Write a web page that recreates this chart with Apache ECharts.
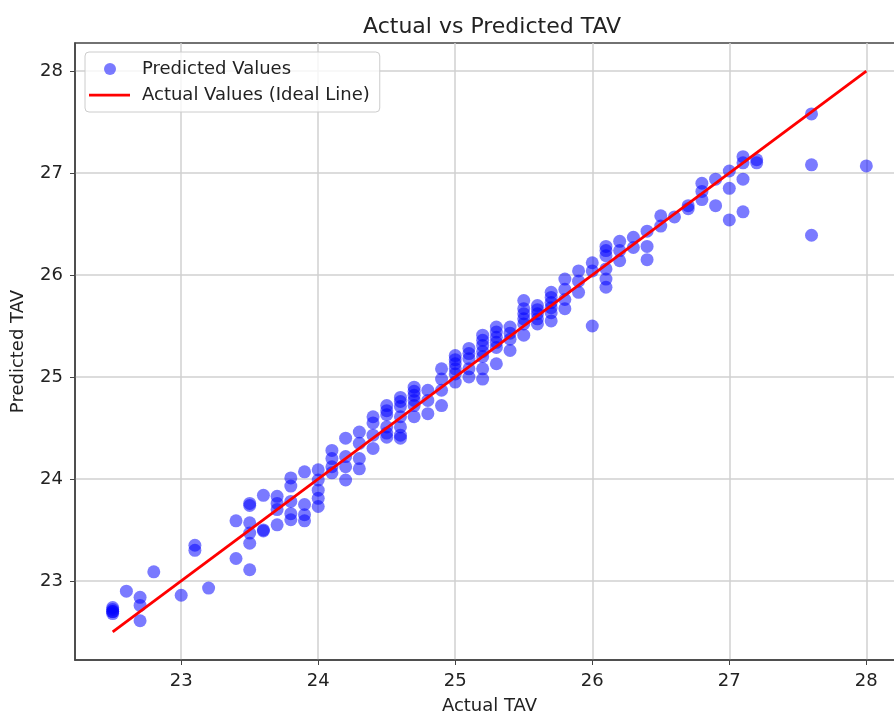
<!DOCTYPE html>
<html>
<head>
<meta charset="utf-8">
<script src="https://cdn.jsdelivr.net/npm/echarts@6/dist/echarts.min.js"></script>
<style>
  html, body { margin: 0; padding: 0; background: #fff; }
  #chart { width: 894px; height: 715px; }
</style>
</head>
<body>
<div id="chart"></div>
<script>
var chart = echarts.init(document.getElementById('chart'));

// actual TAV (x) and predicted TAV (y)
var actualTAV = [
  22.5, 22.5, 22.5, 22.5, 22.5, 22.6, 22.7, 22.7, 22.7, 22.8, 23.0, 23.1, 23.1, 23.2,
  23.4, 23.4, 23.5, 23.5, 23.5, 23.5, 23.5, 23.5, 23.6, 23.6, 23.6,
  23.7, 23.7, 23.7, 23.7, 23.8, 23.8, 23.8, 23.8, 23.8, 23.9, 23.9, 23.9, 23.9,
  24.0, 24.0, 24.0, 24.0, 24.0, 24.1, 24.1, 24.1, 24.1, 24.2, 24.2, 24.2, 24.2,
  24.3, 24.3, 24.3, 24.3, 24.4, 24.4, 24.4, 24.4, 24.5, 24.5, 24.5, 24.5, 24.5, 24.5,
  24.6, 24.6, 24.6, 24.6, 24.6, 24.6, 24.6, 24.7, 24.7, 24.7, 24.7, 24.7, 24.7,
  24.8, 24.8, 24.8, 24.9, 24.9, 24.9, 24.9, 25.0, 25.0, 25.0, 25.0, 25.0, 25.0,
  25.1, 25.1, 25.1, 25.1, 25.1, 25.2, 25.2, 25.2, 25.2, 25.2, 25.2, 25.2,
  25.3, 25.3, 25.3, 25.3, 25.3, 25.3, 25.4, 25.4, 25.4, 25.4,
  25.5, 25.5, 25.5, 25.5, 25.5, 25.5, 25.6, 25.6, 25.6, 25.6, 25.6,
  25.7, 25.7, 25.7, 25.7, 25.7, 25.7,
  25.8, 25.8, 25.8, 25.8, 25.9, 25.9, 25.9, 26.0, 26.0, 26.0,
  26.1, 26.1, 26.1, 26.1, 26.1, 26.1, 26.2, 26.2, 26.2, 26.3, 26.3, 26.4, 26.4, 26.4,
  26.5, 26.5, 26.6, 26.7, 26.7, 26.8, 26.8, 26.8, 26.9, 26.9,
  27.0, 27.0, 27.0, 27.1, 27.1, 27.1, 27.1, 27.2, 27.2,
  27.6, 27.6, 27.6, 28.0
];
var predictedTAV = [
  22.70, 22.72, 22.68, 22.74, 22.70, 22.90, 22.84, 22.76, 22.61, 23.09, 22.86, 23.35, 23.30, 22.93,
  23.22, 23.59, 23.76, 23.74, 23.57, 23.47, 23.37, 23.11, 23.84, 23.50, 23.49,
  23.83, 23.76, 23.70, 23.55, 24.01, 23.93, 23.78, 23.66, 23.60, 24.07, 23.75, 23.65, 23.59,
  24.09, 23.99, 23.89, 23.81, 23.73, 24.28, 24.20, 24.12, 24.06, 24.40, 24.22, 24.12, 23.99,
  24.46, 24.35, 24.20, 24.10, 24.61, 24.55, 24.43, 24.30, 24.72, 24.63, 24.51, 24.41, 24.45, 24.67,
  24.80, 24.71, 24.61, 24.51, 24.43, 24.40, 24.76, 24.90, 24.82, 24.72, 24.61, 24.86, 24.77,
  24.87, 24.77, 24.64, 25.08, 24.98, 24.87, 24.72, 25.21, 25.13, 25.03, 24.95, 25.17, 25.08,
  25.28, 25.18, 25.08, 25.00, 25.23, 25.41, 25.31, 25.20, 25.08, 24.98, 25.36, 25.25,
  25.49, 25.39, 25.29, 25.13, 25.44, 25.34, 25.49, 25.37, 25.26, 25.43,
  25.75, 25.62, 25.52, 25.41, 25.67, 25.57, 25.70, 25.62, 25.52, 25.66, 25.57,
  25.83, 25.73, 25.63, 25.55, 25.78, 25.68,
  25.96, 25.86, 25.76, 25.67, 26.04, 25.94, 25.83, 26.12, 26.04, 25.50,
  26.28, 26.19, 26.06, 25.96, 25.88, 26.24, 26.33, 26.24, 26.14, 26.37, 26.27, 26.43, 26.28, 26.15,
  26.58, 26.48, 26.57, 26.68, 26.65, 26.90, 26.82, 26.74, 26.94, 26.68,
  27.02, 26.85, 26.54, 27.16, 27.10, 26.94, 26.62, 27.13, 27.10,
  27.58, 27.08, 26.39, 27.07
];
var idealLine = [22.5, 28];
var tickValues = [23, 24, 25, 26, 27, 28];

var points = [];
for (var i = 0; i < actualTAV.length; i++) {
  points.push([actualTAV[i], predictedTAV[i]]);
}
var linePts = idealLine.map(function (v) { return [v, v]; });

var font = 'DejaVu Sans';

function makeAxis(name, gap) {
  return {
    type: 'value',
    name: name,
    nameLocation: 'middle',
    nameGap: gap,
    nameTextStyle: { fontFamily: font, fontSize: 18, color: '#222' },
    min: 22.225,
    max: 28.275,
    axisLine: { show: true, onZero: false, lineStyle: { color: '#444', width: 1.5 } },
    axisTick: { show: true, length: 5, customValues: tickValues, lineStyle: { color: '#444', width: 1 } },
    axisLabel: { customValues: tickValues, fontFamily: font, fontSize: 18, color: '#222', margin: 12 },
    splitLine: { show: true, lineStyle: { color: '#d0d0d0', width: 1.5 } }
  };
}

chart.setOption({
  animation: false,
  backgroundColor: '#fff',
  title: {
    text: 'Actual vs Predicted TAV',
    left: 358,
    top: 11,
    textStyle: { fontFamily: font, fontSize: 22, fontWeight: 'normal', color: '#222' }
  },
  // plot area runs past the right edge of the picture
  grid: {
    left: 75, top: 43, width: 829, height: 617,
    outerBoundsMode: 'none',
    containLabel: false,
    show: true, borderColor: '#444', borderWidth: 1.5
  },
  legend: {
    orient: 'vertical',
    left: 85,
    top: 52,
    itemWidth: 48,
    itemHeight: 12,
    itemGap: 8,
    padding: [8, 10, 8, 4],
    borderColor: '#ccc',
    borderWidth: 1,
    borderRadius: 4,
    backgroundColor: 'rgba(255,255,255,0.8)',
    textStyle: { fontFamily: font, fontSize: 18, color: '#222' },
    data: [
      { name: 'Predicted Values', icon: 'path://M0,0 M48,12 M27,6 A6,6 0 1,1 15,6 A6,6 0 1,1 27,6 Z' },
      { name: 'Actual Values (Ideal Line)', icon: 'path://M0,0 M48,12 M0,4.7 L41,4.7 L41,7.4 L0,7.4 Z' }
    ]
  },
  xAxis: makeAxis('Actual TAV', 37),
  yAxis: makeAxis('Predicted TAV', 48),
  series: [
    {
      name: 'Predicted Values',
      type: 'scatter',
      symbolSize: 13,
      itemStyle: { color: 'rgba(0,0,255,0.65)' },
      data: points
    },
    {
      name: 'Actual Values (Ideal Line)',
      type: 'line',
      showSymbol: false,
      symbol: 'none',
      lineStyle: { color: '#ff0000', width: 2.8 },
      itemStyle: { color: '#ff0000' },
      data: linePts
    }
  ]
});
</script>
</body>
</html>
